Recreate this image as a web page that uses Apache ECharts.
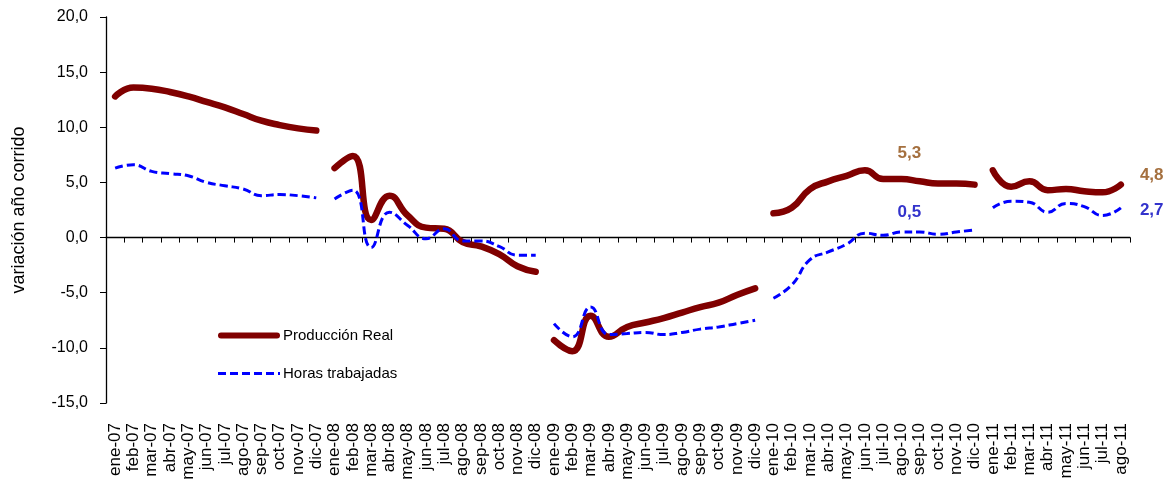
<!DOCTYPE html>
<html>
<head>
<meta charset="utf-8">
<script src="https://cdn.jsdelivr.net/npm/echarts@6/dist/echarts.min.js"></script>
<style>html,body{margin:0;padding:0;background:#fff;}#c{width:1170px;height:484px;}</style>
</head>
<body>
<div id="c"></div>
<script>
const categories = [
 'ene-07','feb-07','mar-07','abr-07','may-07','jun-07','jul-07','ago-07','sep-07','oct-07','nov-07','dic-07',
 'ene-08','feb-08','mar-08','abr-08','may-08','jun-08','jul-08','ago-08','sep-08','oct-08','nov-08','dic-08',
 'ene-09','feb-09','mar-09','abr-09','may-09','jun-09','jul-09','ago-09','sep-09','oct-09','nov-09','dic-09',
 'ene-10','feb-10','mar-10','abr-10','may-10','jun-10','jul-10','ago-10','sep-10','oct-10','nov-10','dic-10',
 'ene-11','feb-11','mar-11','abr-11','may-11','jun-11','jul-11','ago-11'
];
const yearStarts = ['ene-07','ene-08','ene-09','ene-10','ene-11'];

const prod2007 = [12.8,13.6,13.5,13.2,12.8,12.3,11.8,11.2,10.6,10.2,9.9,9.7];
const prod2008 = [6.3,7.4,1.6,3.8,2.0,0.9,0.8,-0.4,-0.8,-1.5,-2.6,-3.1];
const prod2009 = [-9.3,-10.3,-7.1,-9.0,-8.1,-7.7,-7.3,-6.8,-6.3,-5.9,-5.2,-4.6];
const prod2010 = [2.2,2.7,4.4,5.1,5.6,6.1,5.3,5.3,5.1,4.9,4.9,4.8];
const prod2011 = [6.1,4.6,5.1,4.3,4.4,4.2,4.1,4.8];

const horas2007 = [6.3,6.6,6.0,5.8,5.6,5.0,4.7,4.4,3.8,3.9,3.8,3.6];
const horas2008 = [3.5,4.3,-0.9,2.3,1.1,-0.1,0.8,-0.3,-0.3,-0.8,-1.6,-1.6];
const horas2009 = [-7.8,-9.0,-6.3,-8.8,-8.7,-8.6,-8.8,-8.6,-8.3,-8.1,-7.8,-7.5];
const horas2010 = [-5.5,-4.3,-2.0,-1.3,-0.6,0.4,0.2,0.5,0.5,0.3,0.5,0.7];
const horas2011 = [2.7,3.3,3.2,2.3,3.1,2.8,2.0,2.7];

const yTicks = { min: -15, max: 20, step: 5 };
const labeledPoints = ['ago-10','ago-11'];

const fmt = v => Number(v).toFixed(1).replace('.', ',');
const FONT = "'Liberation Sans', Arial, sans-serif";
const PROD_NAME = 'Producción Real', HORAS_NAME = 'Horas trabajadas';
const PROD_COLOR = '#800000', HORAS_COLOR = '#0000FF';
const PROD_LABEL = '#A5703F', HORAS_LABEL = '#3333CC';

function buildData(arr, start, labelCfg) {
  const d = new Array(categories.length).fill(null);
  const s = categories.indexOf(start);
  arr.forEach((v, i) => {
    const idx = s + i;
    const cat = categories[idx];
    if (labeledPoints.includes(cat)) {
      d[idx] = { value: v, label: labelCfg(cat) };
    } else d[idx] = v;
  });
  return d;
}

function makeLabel(color, offTop, offRight) {
  return cat => {
    const last = cat === labeledPoints[1];
    return {
      show: true, formatter: p => fmt(p.value), color: color, fontWeight: 'bold',
      fontSize: 17, fontFamily: FONT,
      position: last ? 'right' : 'top', offset: last ? offRight : offTop
    };
  };
}
const prodLabel = makeLabel(PROD_LABEL, [8, -12], [14, -9]);
const horasLabel = makeLabel(HORAS_LABEL, [8, -6], [14, 3]);

const prodYears = [prod2007, prod2008, prod2009, prod2010, prod2011];
const horasYears = [horas2007, horas2008, horas2009, horas2010, horas2011];

const series = [];
prodYears.forEach((arr, k) => series.push({
  name: PROD_NAME, type: 'line', smooth: true, symbol: 'circle', symbolSize: 0.1,
  showSymbol: true, showAllSymbol: true, connectNulls: false,
  lineStyle: { color: PROD_COLOR, width: 6.5, cap: 'round', join: 'round' },
  itemStyle: { color: PROD_COLOR },
  label: { show: false },
  data: buildData(arr, yearStarts[k], prodLabel), z: 2
}));
horasYears.forEach((arr, k) => series.push({
  name: HORAS_NAME, type: 'line', smooth: true, symbol: 'circle', symbolSize: 0.1,
  showSymbol: true, showAllSymbol: true, connectNulls: false,
  lineStyle: { color: HORAS_COLOR, width: 3, type: [8, 4] },
  itemStyle: { color: HORAS_COLOR },
  label: { show: false },
  data: buildData(arr, yearStarts[k], horasLabel), z: 3
}));

const prodIcon = 'path://M3,0H59A3,3 0 0 1 59,6H3A3,3 0 0 1 3,0Z';
const horasIcon = 'path://M0,0H8V3H0Z M12,0H20V3H12Z M24,0H32V3H24Z M36,0H44V3H36Z M48,0H56V3H48Z M60,0H62V3H60Z';

const chart = echarts.init(document.getElementById('c'), null, { renderer: 'canvas' });
chart.setOption({
  animation: false,
  textStyle: { fontFamily: FONT },
  grid: { left: 106, right: 40, top: 17, bottom: 81 },
  legend: {
    data: [
      { name: PROD_NAME, icon: prodIcon, itemStyle: { color: PROD_COLOR } },
      { name: HORAS_NAME, icon: horasIcon, itemStyle: { color: HORAS_COLOR } }
    ],
    orient: 'vertical', left: 218, top: 328, padding: 0,
    itemWidth: 62, itemHeight: 14, itemGap: 23,
    textStyle: { fontSize: 15, color: '#000', fontFamily: FONT, padding: [0, 0, 0, -2] }
  },
  xAxis: [
    {
      type: 'category', data: categories, boundaryGap: true, position: 'bottom',
      axisLine: { show: false, onZero: false }, axisTick: { show: false },
      axisLabel: { interval: 0, rotate: 90, fontSize: 17, color: '#000', margin: 20, fontFamily: FONT }
    },
    {
      type: 'category', data: categories, boundaryGap: true, position: 'bottom',
      axisLine: { show: true, onZero: true, lineStyle: { color: '#000', width: 1.3 } },
      axisTick: { show: true, inside: false, length: 5, interval: 0, lineStyle: { color: '#000' } },
      axisLabel: { show: false }
    }
  ],
  yAxis: {
    type: 'value', min: yTicks.min, max: yTicks.max, interval: yTicks.step,
    name: 'variación año corrido', nameLocation: 'middle', nameGap: 78,
    nameTextStyle: { fontSize: 18, color: '#000', fontFamily: FONT },
    axisLine: { show: true, lineStyle: { color: '#000', width: 1.3 } },
    axisTick: { show: true, length: 6, lineStyle: { color: '#000' } },
    splitLine: { show: false },
    axisLabel: { formatter: v => fmt(v), fontSize: 16, color: '#000', margin: 18, fontFamily: FONT }
  },
  series: series
});
</script>
</body>
</html>
